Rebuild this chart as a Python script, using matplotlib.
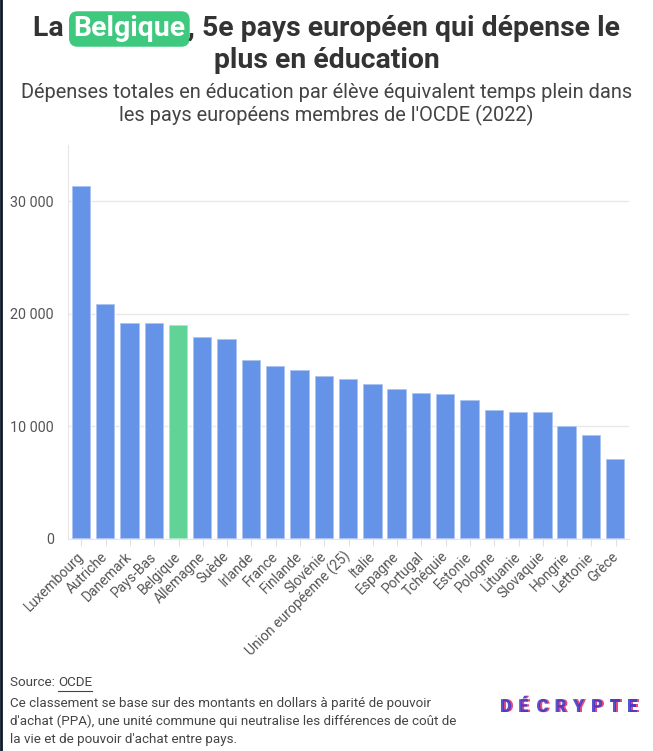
import matplotlib
matplotlib.use("Agg")
import matplotlib.pyplot as plt
import matplotlib.patheffects as pe
from matplotlib.lines import Line2D
from matplotlib.ticker import FuncFormatter

# Données (dépenses par élève, PPA, 2022)
pays = ["Luxembourg", "Autriche", "Danemark", "Pays-Bas", "Belgique", "Allemagne",
        "Suède", "Irlande", "France", "Finlande", "Slovénie", "Union européenne (25)",
        "Italie", "Espagne", "Portugal", "Tchéquie", "Estonie", "Pologne", "Lituanie",
        "Slovaquie", "Hongrie", "Lettonie", "Grèce"]
depenses = [31400, 20900, 19200, 19150, 19000, 17950, 17800, 15900, 15400, 15000,
            14450, 14250, 13750, 13350, 12950, 12850, 12350, 11500, 11300, 11250,
            10050, 9200, 7150]
yticks = [0, 10000, 20000, 30000]

BLEU = "#6593E8"
VERT = "#62D396"
W, H = 653, 751

plt.rcParams["font.family"] = ["Roboto", "DejaVu Sans"]

fig = plt.figure(figsize=(W / 100, H / 100), dpi=100)
fig.patch.set_facecolor("white")

# conversion pixels -> coordonnées figure
def fx(px):
    return px / W

def fy(py):
    return 1 - py / H

ax = fig.add_axes([fx(68), fy(539), fx(629) - fx(68), fy(145) - fy(539)])

couleurs = [VERT if p == "Belgique" else BLEU for p in pays]
ax.bar(range(len(pays)), depenses, width=0.8, color=couleurs,
       edgecolor=(1, 1, 1, 0.55), linewidth=1.2, zorder=3)

ax.set_xlim(-0.55, len(pays) - 0.45)
ax.set_ylim(0, 35000)
ax.set_yticks(yticks)
ax.yaxis.set_major_formatter(FuncFormatter(lambda v, _: f"{int(v):,}".replace(",", " ")))
ax.grid(axis="y", color="#e8e8e8", linewidth=1, zorder=0)
ax.set_xticks(range(len(pays)))
ax.set_xticklabels(pays, rotation=45, ha="right", va="center", rotation_mode="anchor")

for s in ["top", "right"]:
    ax.spines[s].set_visible(False)
ax.spines["left"].set_color("#e6e6e6")
ax.spines["bottom"].set_color("#e6e6e6")
ax.tick_params(axis="y", length=0, pad=10, labelsize=10.4, labelcolor="#555555")
ax.tick_params(axis="x", length=5, color="#e0e0e0", pad=6, labelsize=10, labelcolor="#555555")

# Titre avec "Belgique" surligné en vert
r = fig.canvas.get_renderer()
morceaux = [("La ", False), ("Belgique", True), (", 5e pays européen qui dépense le", False)]
taille_titre = 20.4
textes = []
for txt, surligne in morceaux:
    t = fig.text(0, fy(29), txt, fontsize=taille_titre, fontweight="bold",
                 color="white" if surligne else "#333333", va="center", ha="left")
    if surligne:
        t.set_bbox(dict(boxstyle="round,pad=0.15,rounding_size=0.3", fc="#3EC97F", ec="none"))
    textes.append(t)
largeurs = [t.get_window_extent(r).width for t in textes]
largeurs[1] += 6
x = W / 2 - sum(largeurs) / 2
for t, lw in zip(textes, largeurs):
    t.set_x(fx(x + (3 if t is textes[1] else 0)))
    x += lw
fig.text(0.5, fy(60), "plus en éducation", fontsize=taille_titre, fontweight="bold",
         color="#333333", ha="center", va="center")

fig.text(0.5, fy(93), "Dépenses totales en éducation par élève équivalent temps plein dans",
         fontsize=14.4, color="#444444", ha="center", va="center")
fig.text(0.5, fy(115), "les pays européens membres de l'OCDE (2022)",
         fontsize=14.4, color="#444444", ha="center", va="center")

# Pied de page
t_src = fig.text(fx(10), fy(683), "Source: ", fontsize=9.6, color="#444444", va="center")
w_src = t_src.get_window_extent(r).width
t_ocde = fig.text(fx(10 + w_src), fy(683), "OCDE", fontsize=9.6, color="#444444", va="center")
bb = t_ocde.get_window_extent(r)
fig.add_artist(Line2D([fx(bb.x0), fx(bb.x1)], [fy(691), fy(691)], color="#444444", lw=0.8))

note = ["Ce classement se base sur des montants en dollars à parité de pouvoir",
        "d'achat (PPA), une unité commune qui neutralise les différences de coût de",
        "la vie et de pouvoir d'achat entre pays."]
for i, ligne in enumerate(note):
    fig.text(fx(10), fy(703 + i * 18), ligne, fontsize=9.6, color="#444444", va="center")

# Logo DÉCRYPTE, lettre par lettre avec un décalage rose
ombre = [pe.PathPatchEffect(offset=(1.4, 0), facecolor="#E8336E", edgecolor="none", alpha=0.9),
         pe.PathPatchEffect(facecolor="#3A36C9", edgecolor="none", alpha=0.85)]
for i, lettre in enumerate("DÉCRYPTE"):
    fig.text(fx(500 + i * 18.2), fy(707), lettre, fontsize=13, fontweight="heavy",
             color="#3A36C9", va="center", ha="left", path_effects=ombre)

# bordure gauche
fig.add_artist(Line2D([0.0015, 0.0015], [0, 1], color="#0d1b2a", lw=2))

fig.savefig("out.png", dpi=100, facecolor="white")
